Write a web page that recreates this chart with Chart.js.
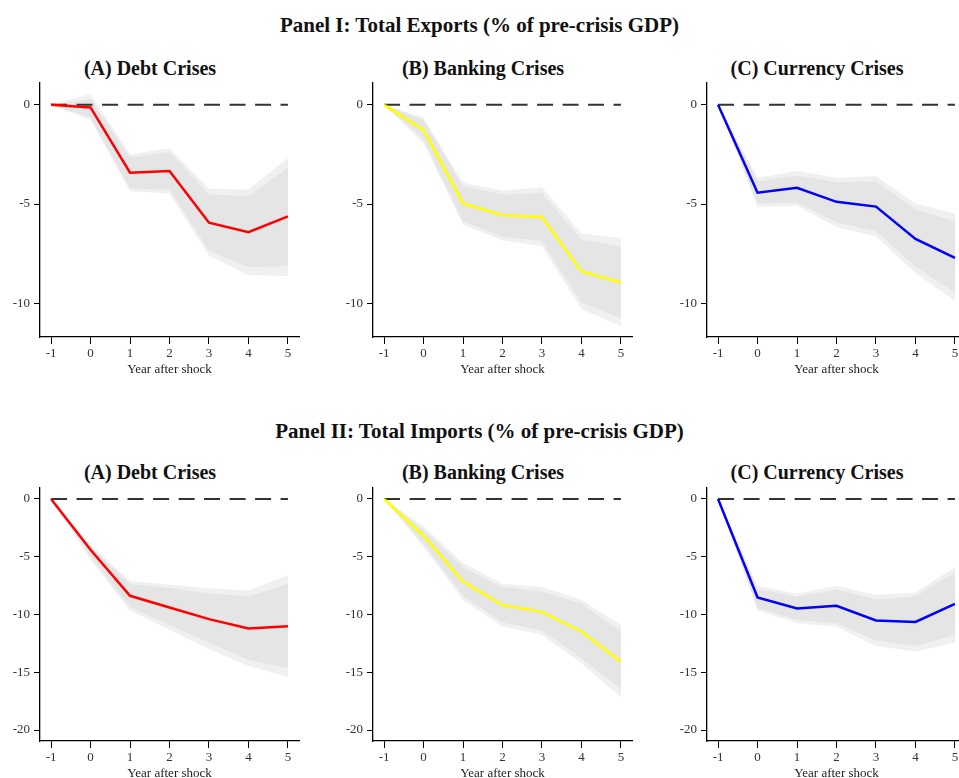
<!DOCTYPE html>
<html>
<head>
<meta charset="utf-8">
<script src="https://cdn.jsdelivr.net/npm/chart.js@4"></script>
<style>
  html, body { margin: 0; padding: 0; background: #fff; overflow: hidden; }
  body { width: 959px; height: 778px; position: relative; font-family: "Liberation Serif", serif; }
  .ptitle { position: absolute; left: 0; width: 959px; text-align: center; font-weight: bold; font-size: 21px; color: #111; }
  .stitle { position: absolute; width: 300px; text-align: center; font-weight: bold; font-size: 20px; color: #111; }
  canvas { position: absolute; }
</style>
</head>
<body>
<div class="ptitle" style="top:13px">Panel I: Total Exports (% of pre-crisis GDP)</div>
<div class="ptitle" style="top:419px">Panel II: Total Imports (% of pre-crisis GDP)</div>

<script>
const years = [-1, 0, 1, 2, 3, 4, 5];
const zeroLine = [0, 0, 0, 0, 0, 0, 0];

// Panel I: exports
const exDebt      = [0, -0.13, -3.42, -3.34, -5.94, -6.42, -5.62];
const exDebtHiIn  = [0, 0.30, -2.66, -2.38, -4.52, -4.60, -3.17];
const exDebtLoIn  = [0, -0.64, -4.23, -4.27, -7.34, -8.18, -8.11];
const exDebtHiOut = [0, 0.54, -2.50, -2.19, -4.23, -4.27, -2.68];
const exDebtLoOut = [0, -0.76, -4.35, -4.47, -7.59, -8.57, -8.62];

const exBank      = [0, -1.26, -4.97, -5.56, -5.65, -8.40, -8.95];
const exBankHiIn  = [0, -0.76, -4.10, -4.52, -4.43, -6.80, -7.13];
const exBankLoIn  = [0, -1.74, -5.87, -6.63, -6.88, -9.97, -10.76];
const exBankHiOut = [0, -0.64, -3.93, -4.32, -4.15, -6.49, -6.71];
const exBankLoOut = [0, -1.94, -6.04, -6.83, -7.13, -10.30, -11.15];

const exCurr      = [0, -4.43, -4.18, -4.89, -5.13, -6.76, -7.71];
const exCurrHiIn  = [0, -3.85, -3.56, -3.90, -3.85, -5.28, -5.87];
const exCurrLoIn  = [0, -4.97, -4.94, -5.92, -6.37, -8.15, -9.46];
const exCurrHiOut = [0, -3.68, -3.34, -3.68, -3.59, -4.97, -5.48];
const exCurrLoOut = [0, -5.14, -5.08, -6.16, -6.63, -8.48, -9.87];

// Panel II: imports
const imDebt      = [0, -4.39, -8.38, -9.39, -10.40, -11.21, -11.01];
const imDebtHiIn  = [0, -4.16, -7.37, -7.72, -8.15, -8.44, -7.34];
const imDebtLoIn  = [0, -4.97, -9.36, -10.90, -12.43, -13.93, -14.65];
const imDebtHiOut = [0, -3.96, -7.08, -7.43, -7.72, -7.92, -6.59];
const imDebtLoOut = [0, -5.26, -9.65, -11.33, -12.98, -14.45, -15.38];

const imBank      = [0, -3.18, -7.14, -9.19, -9.77, -11.47, -14.10];
const imBankHiIn  = [0, -2.66, -5.90, -7.63, -8.00, -9.08, -11.47];
const imBankLoIn  = [0, -3.87, -8.38, -10.69, -11.39, -13.79, -16.47];
const imBankHiOut = [0, -2.37, -5.55, -7.34, -7.63, -8.73, -10.90];
const imBankLoOut = [0, -4.16, -8.73, -11.04, -11.76, -14.22, -17.17];

const imCurr      = [0, -8.53, -9.48, -9.25, -10.52, -10.64, -9.08];
const imCurrHiIn  = [0, -7.80, -8.44, -7.86, -8.67, -8.44, -6.36];
const imCurrLoIn  = [0, -9.45, -10.46, -10.75, -12.25, -12.72, -11.76];
const imCurrHiOut = [0, -7.51, -8.21, -7.51, -8.32, -8.09, -5.90];
const imCurrLoOut = [0, -9.65, -10.75, -11.04, -12.72, -13.21, -12.43];

const yTicksTop = [0, -5, -10];
const yTicksBottom = [0, -5, -10, -15, -20];

const panels = [
  { title: "(A) Debt Crises", row: 0, col: 0, color: "#ff0000", mid: exDebt, hiIn: exDebtHiIn, loIn: exDebtLoIn, hiOut: exDebtHiOut, loOut: exDebtLoOut },
  { title: "(B) Banking Crises", row: 0, col: 1, color: "#ffff00", mid: exBank, hiIn: exBankHiIn, loIn: exBankLoIn, hiOut: exBankHiOut, loOut: exBankLoOut },
  { title: "(C) Currency Crises", row: 0, col: 2, color: "#0000ff", mid: exCurr, hiIn: exCurrHiIn, loIn: exCurrLoIn, hiOut: exCurrHiOut, loOut: exCurrLoOut },
  { title: "(A) Debt Crises", row: 1, col: 0, color: "#ff0000", mid: imDebt, hiIn: imDebtHiIn, loIn: imDebtLoIn, hiOut: imDebtHiOut, loOut: imDebtLoOut },
  { title: "(B) Banking Crises", row: 1, col: 1, color: "#ffff00", mid: imBank, hiIn: imBankHiIn, loIn: imBankLoIn, hiOut: imBankHiOut, loOut: imBankLoOut },
  { title: "(C) Currency Crises", row: 1, col: 2, color: "#0000ff", mid: imCurr, hiIn: imCurrHiIn, loIn: imCurrLoIn, hiOut: imCurrHiOut, loOut: imCurrLoOut }
];

const axisX = [40, 373, 707];
const rowTop = [75, 480];
const rowAxisTop = [83, 488];
const rowAxisBottom = [337, 741];
const rowRange = [[-11.7, 1.1], [-20.95, 0.95]];
const rowTicks = [yTicksTop, yTicksBottom];
const subTitleTop = [57, 461];

const FONT = "'Liberation Serif', 'Times New Roman', serif";
const pts = arr => years.map((x, i) => ({ x: x, y: arr[i] }));

panels.forEach(p => {
  const left = axisX[p.col] - 40;
  const top = rowTop[p.row];
  const width = 40 + 259 + 10;
  const height = rowAxisBottom[p.row] - top + 42;

  const st = document.createElement("div");
  st.className = "stitle";
  st.textContent = p.title;
  st.style.left = (axisX[p.col] + 110 - 150) + "px";
  st.style.top = subTitleTop[p.row] + "px";
  document.body.appendChild(st);

  const cv = document.createElement("canvas");
  cv.width = width;
  cv.height = height;
  cv.style.left = left + "px";
  cv.style.top = top + "px";
  document.body.appendChild(cv);

  const band = (data, fill, bg) => ({
    data: pts(data), borderWidth: 0, pointRadius: 0, fill: fill,
    backgroundColor: bg, borderColor: "rgba(0,0,0,0)", tension: 0
  });

  new Chart(cv.getContext("2d"), {
    type: "line",
    data: {
      datasets: [
        { data: pts(p.mid), borderColor: p.color, borderWidth: 2.5, pointRadius: 0, fill: false, tension: 0 },
        { data: pts(zeroLine), borderColor: "#333", borderWidth: 2, borderDash: [16, 9.5], pointRadius: 0, fill: false },
        band(p.hiIn, "+1", "#e5e5e5"),
        band(p.loIn, false, "#e5e5e5"),
        band(p.hiOut, "+1", "#f0f0f0"),
        band(p.loOut, false, "#f0f0f0")
      ]
    },
    options: {
      responsive: false,
      animation: false,
      devicePixelRatio: 1,
      layout: { padding: { top: rowAxisTop[p.row] - top, right: 10, left: 0, bottom: 0 } },
      plugins: { legend: { display: false }, tooltip: { enabled: false }, filler: { propagate: false } },
      scales: {
        x: {
          type: "linear",
          min: -1.28,
          max: 5.28,
          afterBuildTicks: s => { s.ticks = years.map(v => ({ value: v })); },
          afterFit: s => { s.height = 42; s.paddingLeft = 0; s.paddingRight = 0; },
          border: { display: true, color: "#000", width: 1.3 },
          grid: { drawOnChartArea: false, drawTicks: true, tickLength: 7, color: "#000", lineWidth: 1 },
          ticks: { color: "#333", font: { family: FONT, size: 13 }, padding: 2, maxRotation: 0 },
          title: { display: true, text: "Year after shock", color: "#222", font: { family: FONT, size: 13 }, padding: { top: 0, bottom: 2 } }
        },
        y: {
          min: rowRange[p.row][0],
          max: rowRange[p.row][1],
          afterBuildTicks: s => { s.ticks = rowTicks[p.row].map(v => ({ value: v })); },
          afterFit: s => { s.width = 40; s.paddingTop = 0; s.paddingBottom = 0; },
          border: { display: true, color: "#000", width: 1.3 },
          grid: { drawOnChartArea: false, drawTicks: true, tickLength: 6, color: "#000", lineWidth: 1 },
          ticks: { color: "#333", font: { family: FONT, size: 13 }, padding: 4, callback: v => String(v) }
        }
      }
    }
  });
});
</script>
</body>
</html>
